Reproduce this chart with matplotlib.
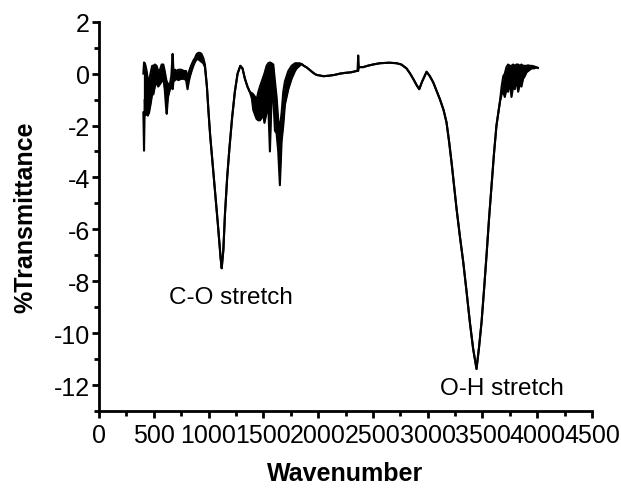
import matplotlib
matplotlib.use("Agg")
import matplotlib.pyplot as plt
from matplotlib.ticker import MultipleLocator

# Spectrum: wavenumber, upper and lower trace (noise band)
wavenumber = [405, 411, 418, 425, 435, 445, 457, 470, 485, 496, 510, 526, 540, 557, 572, 587,
              600, 612, 618, 630, 648, 660, 672, 680, 694, 710, 724, 750, 775, 795, 808, 820,
              831, 845, 861, 876, 891, 907, 922, 937, 952, 967,
              985, 1000, 1015, 1040, 1065, 1085, 1100, 1110,
              1120, 1135, 1150, 1170, 1190, 1215, 1240, 1265, 1290, 1310, 1332, 1355, 1378,
              1395, 1408, 1425, 1439, 1455, 1469, 1485, 1500, 1510, 1530, 1545, 1560, 1575, 1591,
              1606, 1621, 1636, 1651, 1667, 1682, 1697, 1712, 1728, 1743, 1758, 1773, 1789, 1804,
              1830, 1849, 1870, 1895, 1920, 1941, 1965, 1986, 2050, 2100, 2150, 2200, 2250, 2300,
              2350, 2360, 2366, 2372, 2412, 2450, 2500, 2564, 2650, 2716, 2760, 2807, 2840, 2868,
              2900, 2923, 2950, 2990, 3020, 3051, 3080, 3111, 3145, 3172, 3195, 3218, 3240, 3264,
              3295, 3325, 3355, 3385, 3415, 3446, 3470, 3492, 3515, 3537, 3560, 3583, 3605, 3628,
              3645, 3659, 3675, 3690, 3704, 3719, 3734, 3750, 3765, 3780, 3795, 3810, 3826, 3841,
              3856, 3871, 3886, 3902, 3917, 3932, 3947, 3970, 3993, 4005]

t_upper = [0.0, 0.43, 0.4, 0.3, 0.1, -0.2, -0.3, 0.0, 0.3, 0.3, 0.35, 0.3, 0.1, 0.15, 0.35, 0.35,
           0.1, -0.2, -0.3, -0.4, -0.4, -0.1, 0.76, 0.1, 0.15, 0.1, 0.15, 0.15, 0.1, 0.1, -0.2, 0.05,
           0.2, 0.35, 0.5, 0.6, 0.75, 0.8, 0.8, 0.75, 0.6, 0.35,
           -0.5, -1.5, -2.4, -3.6, -4.8, -5.8, -6.6, -7.1,
           -7.5, -6.8, -5.4, -4.0, -2.9, -1.7, -0.7, 0.0, 0.3, 0.2, -0.2, -0.5, -0.72,
           -0.75, -0.8, -0.9, -1.0, -0.7, -0.5, -0.3, -0.1, 0.0, 0.3, 0.4, 0.43, 0.4, 0.35,
           -0.3, -0.9, -1.8, -2.1, -1.5, -0.7, -0.3, -0.1, 0.1, 0.2, 0.3, 0.35, 0.4, 0.4,
           0.4, 0.37, 0.3, 0.24, 0.15, 0.08, 0.0, -0.05, -0.1, -0.08, -0.05, 0.0, 0.03, 0.05,
           0.1, 0.12, 0.7, 0.25, 0.25, 0.3, 0.35, 0.4, 0.42, 0.4, 0.35, 0.2, 0.0, -0.2,
           -0.45, -0.6, -0.3, 0.07, -0.1, -0.34, -0.65, -0.98, -1.4, -1.88, -2.6, -3.42, -4.3, -5.22,
           -6.3, -7.27, -8.4, -9.57, -10.6, -11.38, -10.5, -9.57, -8.3, -7.02, -5.6, -4.32, -3.1, -2.0,
           -1.5, -1.1, -0.5, -0.1, 0.0, 0.25, 0.35, 0.3, 0.3, 0.35, 0.3, 0.35, 0.35, 0.3,
           0.35, 0.3, 0.3, 0.3, 0.32, 0.3, 0.3, 0.28, 0.24, 0.22]

t_lower = [-1.5, -2.97, -1.0, -1.6, -1.4, -1.62, -1.5, -1.2, -0.8, -0.8, -0.5, -0.3, -0.5, -0.4, -0.3, -0.2,
           -0.6, -1.3, -1.55, -0.9, -0.6, -0.5, -0.6, -0.3, -0.25, -0.2, -0.25, -0.2, -0.2, -0.25, -0.6, -0.3,
           -0.1, 0.1, 0.3, 0.45, 0.55, 0.55, 0.5, 0.45, 0.4, 0.25,
           -0.5, -1.5, -2.4, -3.6, -4.8, -5.8, -6.6, -7.1,
           -7.5, -6.8, -5.4, -4.0, -2.9, -1.7, -0.7, 0.0, 0.3, 0.2, -0.2, -0.5, -0.72,
           -0.95, -1.4, -1.6, -1.75, -1.8, -1.8, -1.7, -1.6, -1.9, -1.5, -1.2, -3.0, -1.0, -0.9,
           -2.2, -2.3, -3.0, -4.3, -2.6, -2.0, -1.2, -0.9, -0.6, -0.4, -0.2, -0.05, 0.1, 0.2,
           0.3, 0.37, 0.3, 0.24, 0.15, 0.08, 0.0, -0.05, -0.1, -0.08, -0.05, 0.0, 0.03, 0.05,
           0.1, 0.12, 0.1, 0.25, 0.25, 0.3, 0.35, 0.4, 0.42, 0.4, 0.35, 0.2, 0.0, -0.2,
           -0.45, -0.6, -0.3, 0.07, -0.1, -0.34, -0.65, -0.98, -1.4, -1.88, -2.6, -3.42, -4.3, -5.22,
           -6.3, -7.27, -8.4, -9.57, -10.6, -11.38, -10.5, -9.57, -8.3, -7.02, -5.6, -4.32, -3.1, -2.0,
           -1.5, -1.1, -0.8, -0.7, -0.9, -0.6, -0.7, -0.3, -0.9, -0.5, -0.6, -0.2, -0.7, -0.4,
           -0.5, -0.2, -0.1, 0.05, 0.1, 0.15, 0.2, 0.2, 0.24, 0.22]

annotations = ["C-O stretch", "O-H stretch"]
annot_x = [1200, 3677]
annot_y = [-8.6, -12.1]

plt.rcParams['font.family'] = ['Liberation Sans', 'DejaVu Sans']
plt.rcParams['axes.unicode_minus'] = False

fig = plt.figure(figsize=(6.21, 4.89), dpi=100)
ax = fig.add_axes([99 / 621, 1 - 412 / 489, (592 - 99) / 621, (412 - 22.7) / 489])

ax.fill_between(wavenumber, t_lower, t_upper, color='black', linewidth=0)
ax.plot(wavenumber, t_upper, color='black', linewidth=1.5)
ax.plot(wavenumber, t_lower, color='black', linewidth=1.5)

for txt, xx, yy in zip(annotations, annot_x, annot_y):
    ax.text(xx, yy, txt, ha='center', va='center', fontsize=17.5)

ax.set_xlim(0, 4500)
ax.set_ylim(-13, 2)
ax.xaxis.set_major_locator(MultipleLocator(500))
ax.xaxis.set_minor_locator(MultipleLocator(250))
ax.yaxis.set_major_locator(MultipleLocator(2))
ax.yaxis.set_minor_locator(MultipleLocator(1))

for s in ['top', 'right']:
    ax.spines[s].set_visible(False)
for s in ['left', 'bottom']:
    ax.spines[s].set_linewidth(2.0)

ax.tick_params(which='major', direction='out', length=5, width=2.0, labelsize=18)
ax.tick_params(axis='x', which='major', pad=4)
ax.tick_params(axis='y', which='major', pad=1.5)
ax.tick_params(which='minor', direction='out', length=3.5, width=2.0)

ax.set_xlabel('Wavenumber', fontsize=18, fontweight='bold', labelpad=10)
ax.set_ylabel('%Transmittance', fontsize=18, fontweight='bold', labelpad=12)

fig.savefig('out.png', dpi=100, facecolor='white')
